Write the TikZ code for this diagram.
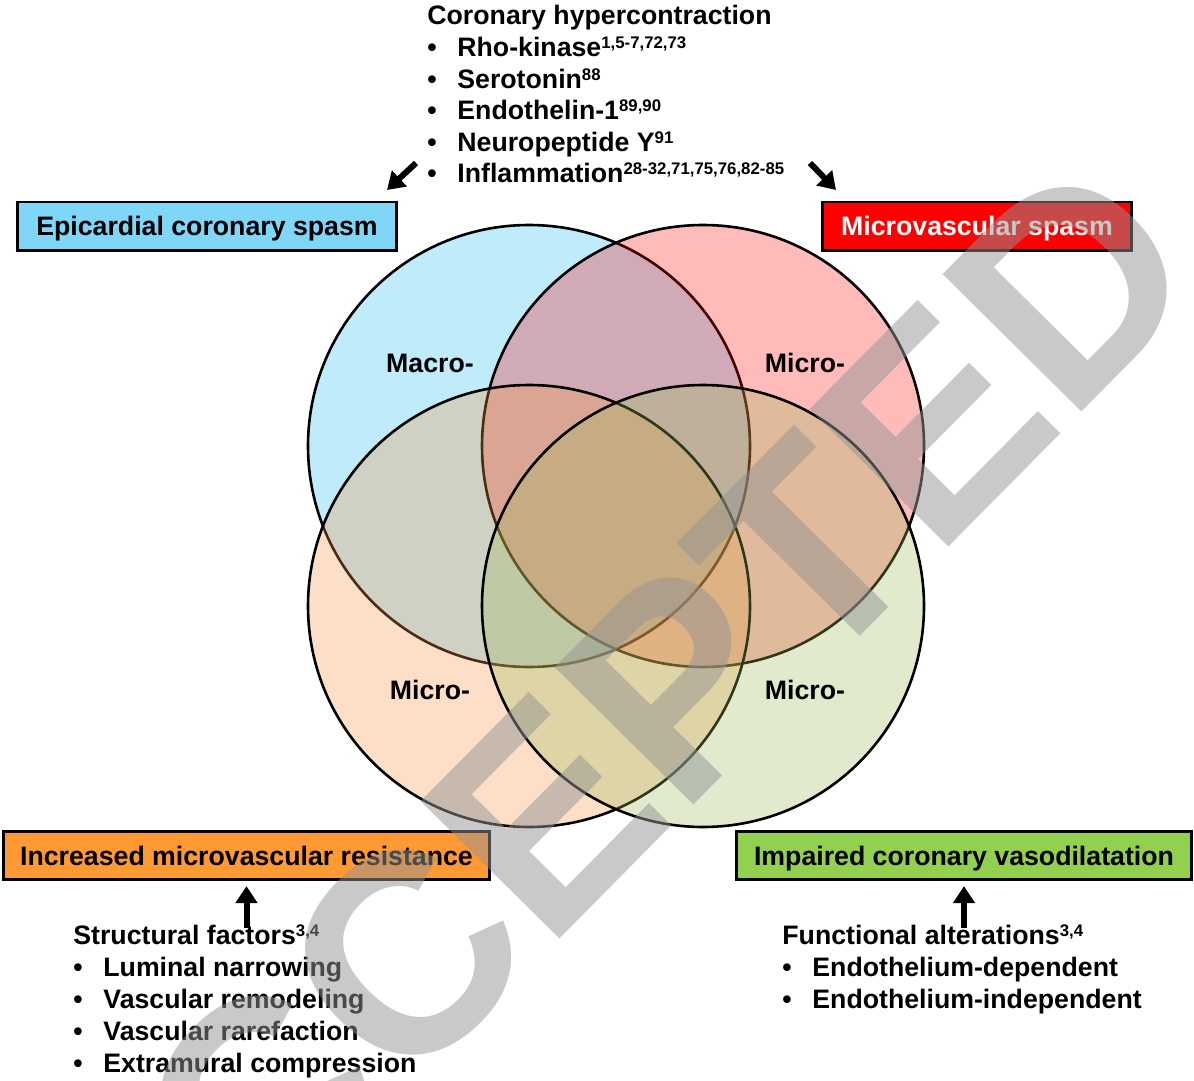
\documentclass[tikz,border=0pt]{standalone}
\usepackage{fontspec}
\setmainfont{Liberation Sans}
\usetikzlibrary{arrows.meta}

\newcommand*{\rad}{110.5pt}
\newcommand*{\refs}[1]{\raisebox{4pt}{\fontsize{8.4}{8.4}\selectfont #1}}
\newcommand*{\bul}[1]{\makebox[15pt][l]{\textbullet}#1}

\definecolor{cblue}{RGB}{0,176,240}
\definecolor{cred}{RGB}{255,0,0}
\definecolor{corange}{RGB}{247,150,70}
\definecolor{cgreen}{RGB}{155,187,89}
\definecolor{boxblue}{RGB}{127,214,247}
\definecolor{boxorange}{RGB}{255,153,51}
\definecolor{boxgreen}{RGB}{146,208,80}
\definecolor{stampgray}{RGB}{147,147,147}

\begin{document}
\begin{tikzpicture}
[
	x=0.5pt, y=-0.5pt,
	txt/.style={anchor=base west, inner sep=0pt, font=\bfseries\fontsize{13.35}{16}\selectfont},
	lbl/.style={inner sep=0pt, text height=9.6pt, text depth=0pt, font=\bfseries\fontsize{13.35}{16}\selectfont},
	box/.style={draw, line width=1.35pt, inner sep=0pt, minimum height=24.2pt, text height=9.6pt, text depth=0pt, font=\bfseries\fontsize{13.35}{16}\selectfont},
	venn/.style={draw, line width=1.3pt},
	bigarrow/.style={line width=3pt, -{Triangle[length=8.5pt,width=10.5pt]}},
	wmark/.style={rotate=45.3, inner sep=0pt, text=stampgray, text opacity=0.5, font=\bfseries\fontsize{142}{142}\selectfont}
]

	\useasboundingbox (0,0) rectangle (1194,1081);

	% venn circles
	\draw[venn, fill=cblue, fill opacity=0.25] (529,446) circle [radius=\rad];
	\draw[venn, fill=cred, fill opacity=0.27] (703,446) circle [radius=\rad];
	\draw[venn, fill=corange, fill opacity=0.3] (529,606) circle [radius=\rad];
	\draw[venn, fill=cgreen, fill opacity=0.3] (703,606) circle [radius=\rad];

	\node[lbl] (macro) at (430,363) {Macro-};
	\node[lbl] (micro-tr) at (805,363) {Micro-};
	\node[lbl] (micro-bl) at (430,690) {Micro-};
	\node[lbl] (micro-br) at (805,690) {Micro-};

	% boxes
	\node[box, fill=boxblue, minimum width=189.6pt] (ecs) at (207,226.2) {Epicardial coronary spasm};
	\node[box, fill=cred, text=white, minimum width=154.6pt] (mvs) at (977,226.2) {Microvascular spasm};
	\node[box, fill=boxorange, minimum width=243pt] (imr) at (246.5,855.5) {Increased microvascular resistance};
	\node[box, fill=boxgreen, minimum width=227.6pt] (icv) at (964,855.5) {Impaired coronary vasodilatation};

	% hypercontraction
	\node[txt] (hyp) at (427,25) {Coronary hypercontraction};
	\foreach \entry [count=\i] in {{Rho-kinase\refs{1,5-7,72,73}}, {Serotonin\refs{88}}, {Endothelin-1\refs{89,90}}, {Neuropeptide Y\refs{91}}, {Inflammation\refs{28-32,71,75,76,82-85}}}
		\node[txt] (hyp-\i) at (427,{25+31.6*\i}) {\bul{\entry}};

	\coordinate (ltail) at (416,163);
	\coordinate (lhead) at (387,190);
	\coordinate (rtail) at (810,163);
	\coordinate (rhead) at (836,190);
	\draw[bigarrow] (ltail) -- (lhead);
	\draw[bigarrow] (rtail) -- (rhead);

	% structural / functional
	\node[txt] (sf) at (73,944) {Structural factors\refs{3,4}};
	\foreach \entry [count=\i] in {Luminal narrowing, Vascular remodeling, Vascular rarefaction, Extramural compression}
		\node[txt] (sf-\i) at (73,{944+32*\i}) {\bul{\entry}};

	\node[txt] (fa) at (782,944) {Functional alterations\refs{3,4}};
	\foreach \entry [count=\i] in {Endothelium-dependent, Endothelium-independent}
		\node[txt] (fa-\i) at (782,{944+32*\i}) {\bul{\entry}};

	\draw[bigarrow, shorten <=-2pt, shorten >=2.5pt] (sf.north -| imr.south) -- (imr.south);
	\draw[bigarrow, shorten <=-2pt, shorten >=2.5pt] (fa.north -| icv.south) -- (icv.south);

	% stamp
	\node[wmark] (stamp) at (594,766) {ACCEPTED};

\end{tikzpicture}
\end{document}
